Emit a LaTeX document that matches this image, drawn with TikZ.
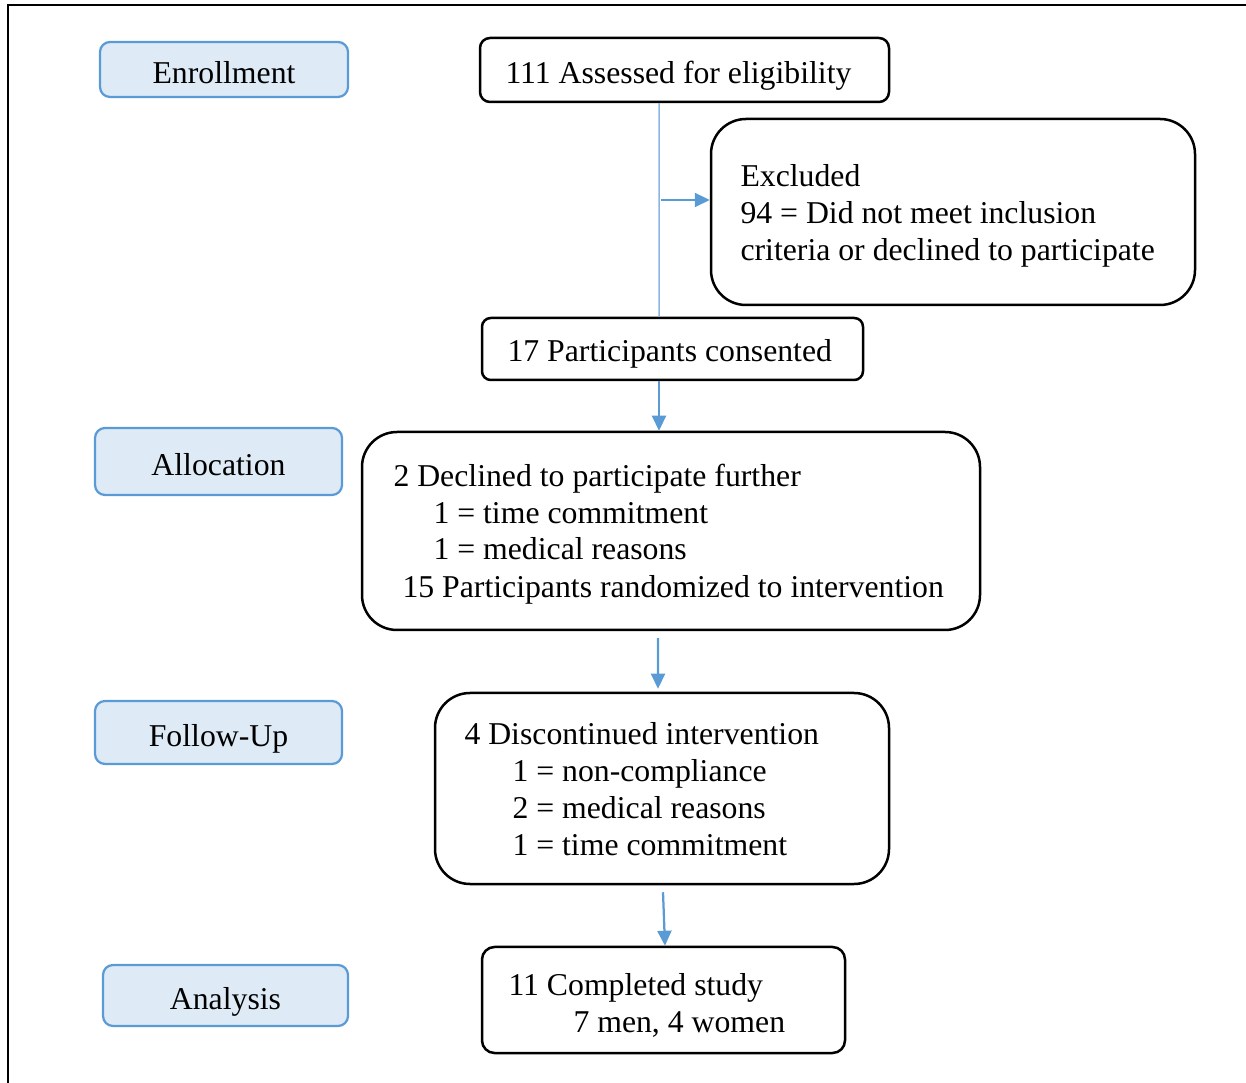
\documentclass[tikz,border=0pt]{standalone}
\usepackage{fontspec}
\setmainfont{Liberation Serif}
\usetikzlibrary{arrows.meta}
\definecolor{stageblue}{RGB}{91,155,213}
\definecolor{stagefill}{RGB}{222,234,246}
\definecolor{linkblue}{RGB}{140,182,225}
\begin{document}
\begin{tikzpicture}[x=0.4pt,y=-0.4pt,
    font=\fontsize{12.7}{15}\selectfont,
    stage/.style={draw=stageblue, fill=stagefill, line width=0.9pt, rounded corners=4pt, inner sep=0pt, text height=12pt, text depth=1pt},
    box/.style={draw, line width=1pt, inner sep=0pt},
    txt/.style={anchor=base west, inner sep=0pt},
    flow/.style={draw=stageblue, line width=0.9pt, -{Triangle[length=6pt,width=5.6pt]}},
    link/.style={draw=linkblue, line width=0.6pt}]
    \useasboundingbox (0,0) rectangle (1246,1083);
    \draw[line width=0.8pt] (1246,5) -- (8,5) -- (8,1083);
    % stages on the left
    \node[stage, minimum width=99.2pt, minimum height=22pt] (enrol) at (224,69.5) {Enrollment};
    \node[stage, minimum width=98.8pt, minimum height=26.8pt] (alloc) at (218.5,461.5) {Allocation};
    \node[stage, minimum width=98.8pt, minimum height=25.2pt] (follow) at (218.5,732.5) {Follow-Up};
    \node[stage, minimum width=98pt, minimum height=24.4pt] (analysis) at (225.5,995.5) {Analysis};
    % flow boxes
    \node[box, rounded corners=4pt, minimum width=163.6pt, minimum height=25.6pt] (assess) at (684.5,70) {};
    \node[box, rounded corners=14pt, minimum width=193.6pt, minimum height=74.4pt] (excl) at (953,212) {};
    \node[box, rounded corners=3.5pt, minimum width=152.4pt, minimum height=24.8pt] (consent) at (672.5,349) {};
    \node[box, rounded corners=14pt, minimum width=247.2pt, minimum height=79.2pt] (rand) at (671,531) {};
    \node[box, rounded corners=14pt, minimum width=181.6pt, minimum height=76.4pt] (disc) at (662,788.5) {};
    \node[box, rounded corners=5pt, minimum width=145.2pt, minimum height=42.4pt] (done) at (663.5,1000) {};
    % texts
    \node[txt] (t1) at (505,84) {111 Assessed for eligibility};
    \node[txt] (t2) at (740,187) {Excluded};
    \node[txt] (t3) at (740,224) {94 = Did not meet inclusion};
    \node[txt] (t4) at (740,261) {criteria or declined to participate};
    \node[txt] (t5) at (507,362) {17 Participants consented};
    \node[txt] (t6) at (393,487) {2 Declined to participate further};
    \node[txt] (t7) at (433,524) {1 = time commitment};
    \node[txt] (t8) at (433,560) {1 = medical reasons};
    \node[txt] (t9) at (402,598) {15 Participants randomized to intervention};
    \node[txt] (t10) at (464,745) {4 Discontinued intervention};
    \node[txt] (t11) at (512,782) {1 = non-compliance};
    \node[txt] (t12) at (512,819) {2 = medical reasons};
    \node[txt] (t13) at (512,856) {1 = time commitment};
    \node[txt] (t14) at (508,995) {11 Completed study};
    \node[txt] (t15) at (573,1032) {7 men, 4 women};
    % connectors
    \coordinate (split) at (661,200);
    \draw[link] ([xshift=-10.2pt]assess.south) -- ([xshift=-5.4pt]consent.north);
    \draw[flow] (split) -- (split -| excl.west);
    \draw[flow] ([xshift=-5.4pt]consent.south) -- ([xshift=-5.4pt]consent.south |- rand.north);
    \draw[flow] ([xshift=-5.2pt,yshift=-2.8pt]rand.south) -- ([xshift=-1.6pt,yshift=1.2pt]disc.north);
    \draw[flow] ([xshift=0.4pt,yshift=-2.8pt]disc.south) -- ([xshift=0.6pt]done.north);
\end{tikzpicture}
\end{document}
